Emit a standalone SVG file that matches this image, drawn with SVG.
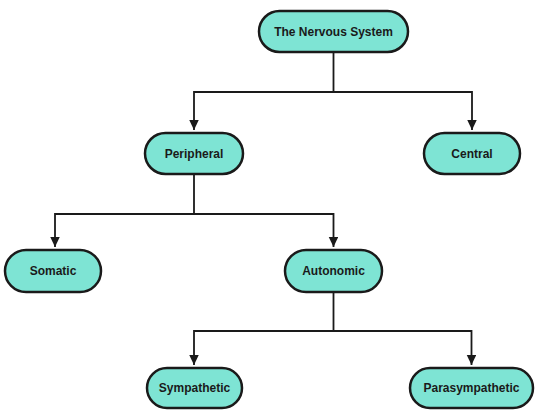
<svg xmlns="http://www.w3.org/2000/svg" width="541" height="414" viewBox="0 0 541 414">
<style>
.node rect{fill:#7ee4d4;stroke:#1a1a1a;stroke-width:2.5}
.node text{font-family:"Liberation Sans",Arial,sans-serif;font-weight:bold;font-size:12px;fill:#1a1a1a;text-anchor:middle;dominant-baseline:central}
.conn path{fill:none;stroke:#1a1a1a;stroke-width:1.8}
</style>
<defs>
<marker id="arr" markerWidth="12" markerHeight="12" refX="10" refY="4.75" orient="auto" markerUnits="userSpaceOnUse">
<path d="M0,0 L10,4.75 L0,9.5 Z" fill="#1a1a1a"/>
</marker>
</defs>
<rect width="541" height="414" fill="#ffffff"/>
<g class="conn">
<path d="M333.5,52 V92 H194 V130" marker-end="url(#arr)"/>
<path d="M333.5,92 H472 V130" marker-end="url(#arr)"/>
<path d="M194,174 V214 H55 V247" marker-end="url(#arr)"/>
<path d="M194,214 H333.5 V247" marker-end="url(#arr)"/>
<path d="M333.5,292 V331 H194 V365" marker-end="url(#arr)"/>
<path d="M333.5,331 H471.5 V365" marker-end="url(#arr)"/>
</g>
<g id="n-nervous" class="node"><rect x="259" y="11" width="149" height="41" rx="20.5"/><text x="333.5" y="31.5">The Nervous System</text></g>
<g id="n-peripheral" class="node"><rect x="145" y="133" width="98" height="41" rx="20.5"/><text x="194" y="153.5">Peripheral</text></g>
<g id="n-central" class="node"><rect x="424" y="133" width="96" height="41" rx="20.5"/><text x="472" y="153.5">Central</text></g>
<g id="n-somatic" class="node"><rect x="5" y="250" width="96" height="42" rx="21"/><text x="53" y="271">Somatic</text></g>
<g id="n-autonomic" class="node"><rect x="285" y="250" width="97" height="42" rx="21"/><text x="333.5" y="271">Autonomic</text></g>
<g id="n-sympathetic" class="node"><rect x="147" y="368" width="95" height="40" rx="20"/><text x="194.5" y="388">Sympathetic</text></g>
<g id="n-parasympathetic" class="node"><rect x="410" y="368" width="123" height="40" rx="20"/><text x="471.5" y="388">Parasympathetic</text></g>
</svg>
